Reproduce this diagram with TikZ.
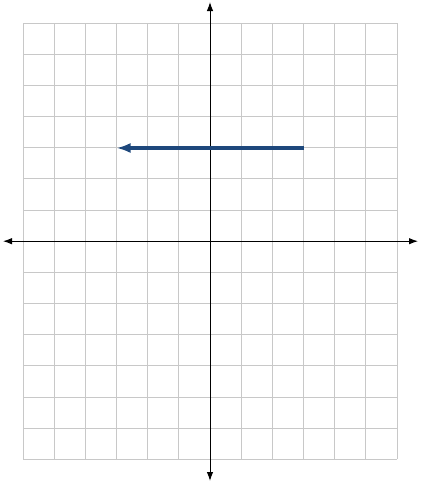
\documentclass[tikz,border=0pt]{standalone}
\usetikzlibrary{arrows.meta}
\definecolor{vec}{RGB}{30,72,124}
\definecolor{gridc}{RGB}{200,200,200}
\begin{document}
\begin{tikzpicture}[x=1pt,y=-1pt,
  gridline/.style={draw=gridc,line width=0.9pt},
  axis/.style={draw=black,line width=1pt,{Latex[length=9pt,width=6.5pt]}-{Latex[length=9pt,width=6.5pt]}},
  vector/.style={draw=vec,line width=3.2pt,-{Latex[length=14pt,width=10pt]}}]
\useasboundingbox (0,0) rectangle (421,483);
\foreach \i in {0,...,12} {
  \draw[gridline] ({23+\i*31.17},23) -- ({23+\i*31.17},459.4);
}
\foreach \j in {0,...,14} {
  \draw[gridline] (23,{23+\j*31.17}) -- (397,{23+\j*31.17});
}
\coordinate (xl) at (3,241.2);
\coordinate (xr) at (418,241.2);
\coordinate (yt) at (210,2);
\coordinate (yb) at (210,481);
\draw[axis] (xl) -- (xr);
\draw[axis] (yt) -- (yb);
\coordinate (A) at (304,148);
\coordinate (B) at (116.5,148);
\draw[vector] (A) -- (B);
\end{tikzpicture}
\end{document}
